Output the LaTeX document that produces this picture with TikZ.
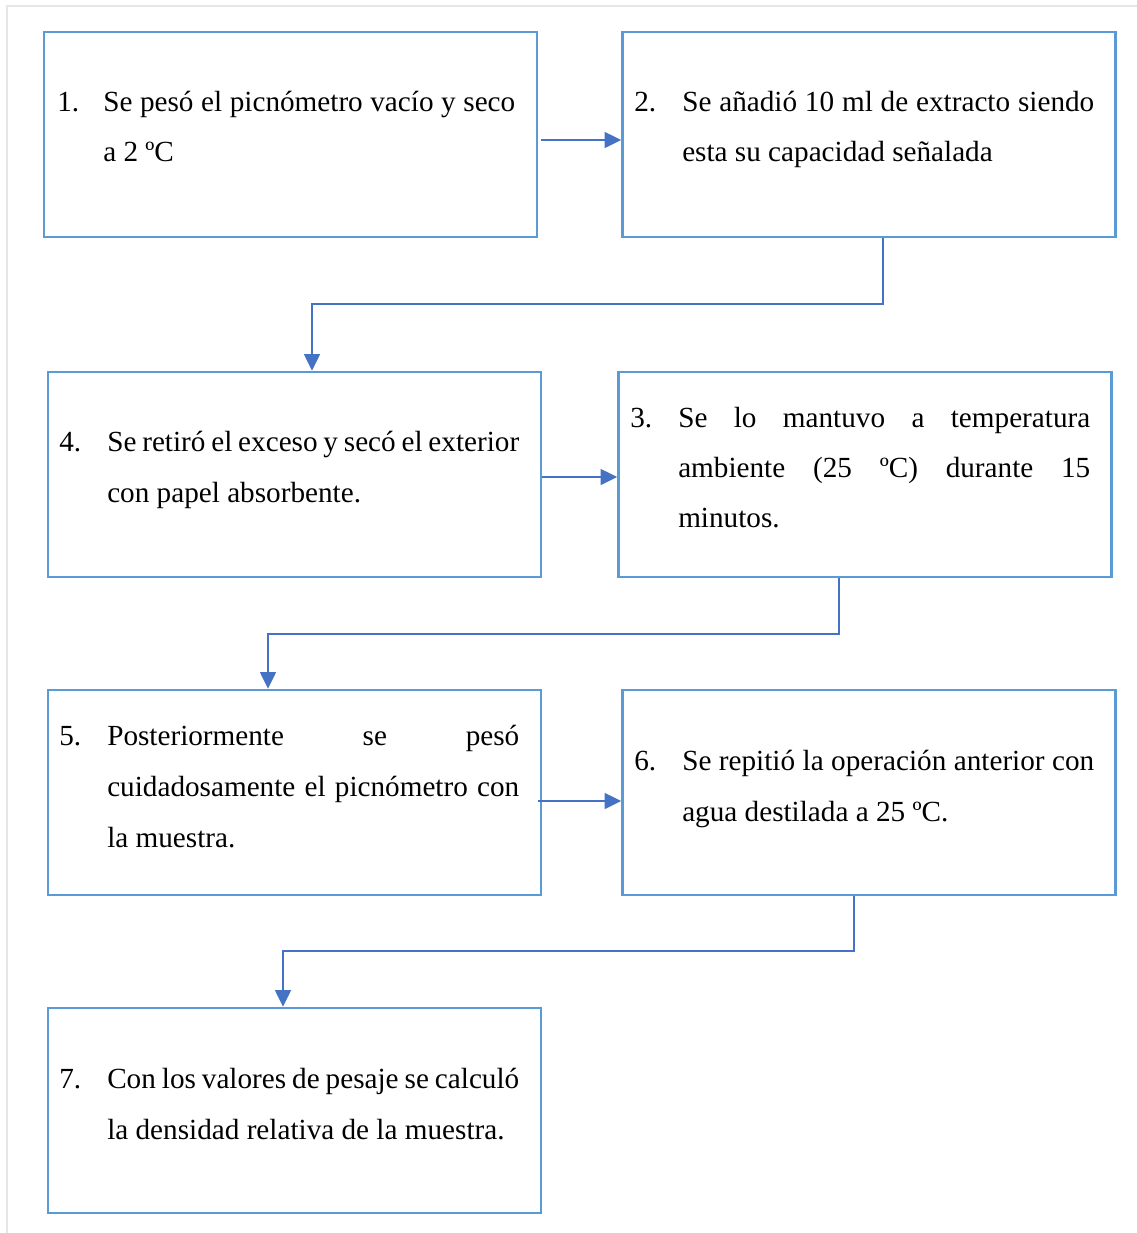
\documentclass[tikz,border=0pt]{standalone}
\usepackage{fontspec}
\setmainfont{Liberation Serif}
\usetikzlibrary{arrows.meta}
\definecolor{boxblue}{HTML}{5B9BD5}
\definecolor{arrowblue}{HTML}{4472C4}
\definecolor{framegray}{HTML}{E6E6E6}
\newcommand\jline[1]{\makebox[309pt][s]{#1}}
\begin{document}
\begin{tikzpicture}[x=0.75pt,y=-0.75pt,
  stepbox/.style={draw=boxblue,line width=1.9pt,minimum width=369.75pt,minimum height=153.75pt,inner sep=0pt},
  txt/.style={anchor=base west,inner sep=0pt,font=\fontsize{21.9pt}{26pt}\selectfont},
  arr/.style={draw=arrowblue,line width=1.1pt,-{Triangle[length=12.5pt,width=12pt]}}]
\useasboundingbox (0,0) rectangle (1137,1233);
% page frame
\draw[framegray,line width=1.5pt] (7,1233) -- (7,6) -- (1137,6);

% boxes
\node[stepbox] (b1) at (290.5,134.5) {};
\node[stepbox] (b2) at (869,134.5) {};
\node[stepbox] (b4) at (294.5,474.5) {};
\node[stepbox] (b3) at (865,474.5) {};
\node[stepbox] (b5) at (294.5,792.5) {};
\node[stepbox] (b6) at (869,792.5) {};
\node[stepbox] (b7) at (294.5,1110.5) {};

% step 1
\node[txt] (n1) at (57,111) {1.};
\node[txt] (t1a) at (103,111) {\jline{Se pesó el picnómetro vacío y seco}};
\node[txt] (t1b) at (103,161) {a 2 ºC};
% step 2
\node[txt] (n2) at (634,111) {2.};
\node[txt] (t2a) at (682,111) {\jline{Se añadió 10 ml de extracto siendo}};
\node[txt] (t2b) at (682,161) {esta su capacidad señalada};
% step 4
\node[txt] (n4) at (59,451) {4.};
\node[txt] (t4a) at (107,451) {\jline{Se retiró el exceso y secó el exterior}};
\node[txt] (t4b) at (107,502) {con papel absorbente.};
% step 3
\node[txt] (n3) at (630,427) {3.};
\node[txt] (t3a) at (678,427) {\jline{Se lo mantuvo a temperatura}};
\node[txt] (t3b) at (678,477) {\jline{ambiente (25 ºC) durante 15}};
\node[txt] (t3c) at (678,527) {minutos.};
% step 5
\node[txt] (n5) at (59,745) {5.};
\node[txt] (t5a) at (107,745) {\jline{Posteriormente se pesó}};
\node[txt] (t5b) at (107,796) {\jline{cuidadosamente el picnómetro con}};
\node[txt] (t5c) at (107,847) {la muestra.};
% step 6
\node[txt] (n6) at (634,770) {6.};
\node[txt] (t6a) at (682,770) {\jline{Se repitió la operación anterior con}};
\node[txt] (t6b) at (682,821) {agua destilada a 25 ºC.};
% step 7
\node[txt] (n7) at (59,1088) {7.};
\node[txt] (t7a) at (107,1088) {\jline{Con los valores de pesaje se calculó}};
\node[txt] (t7b) at (107,1139) {la densidad relativa de la muestra.};

% connector routing points
\coordinate (h12) at (0,140);
\coordinate (h43) at (0,477);
\coordinate (h56) at (0,801);
\coordinate (k24) at (883,304);
\coordinate (d4) at (312,0);
\coordinate (k35) at (839,634);
\coordinate (d5) at (268,0);
\coordinate (k67) at (854,951);
\coordinate (d7) at (283,0);

% connectors
\draw[arr,shorten <=2pt] (b1.east |- h12) -- (b2.west |- h12);
\draw[arr] (b2.south -| k24) -- (k24) -| (b4.north -| d4);
\draw[arr] (b4.east |- h43) -- (b3.west |- h43);
\draw[arr] (b3.south -| k35) -- (k35) -| (b5.north -| d5);
\draw[arr,shorten <=-3pt] (b5.east |- h56) -- (b6.west |- h56);
\draw[arr] (b6.south -| k67) -- (k67) -| (b7.north -| d7);
\end{tikzpicture}
\end{document}
